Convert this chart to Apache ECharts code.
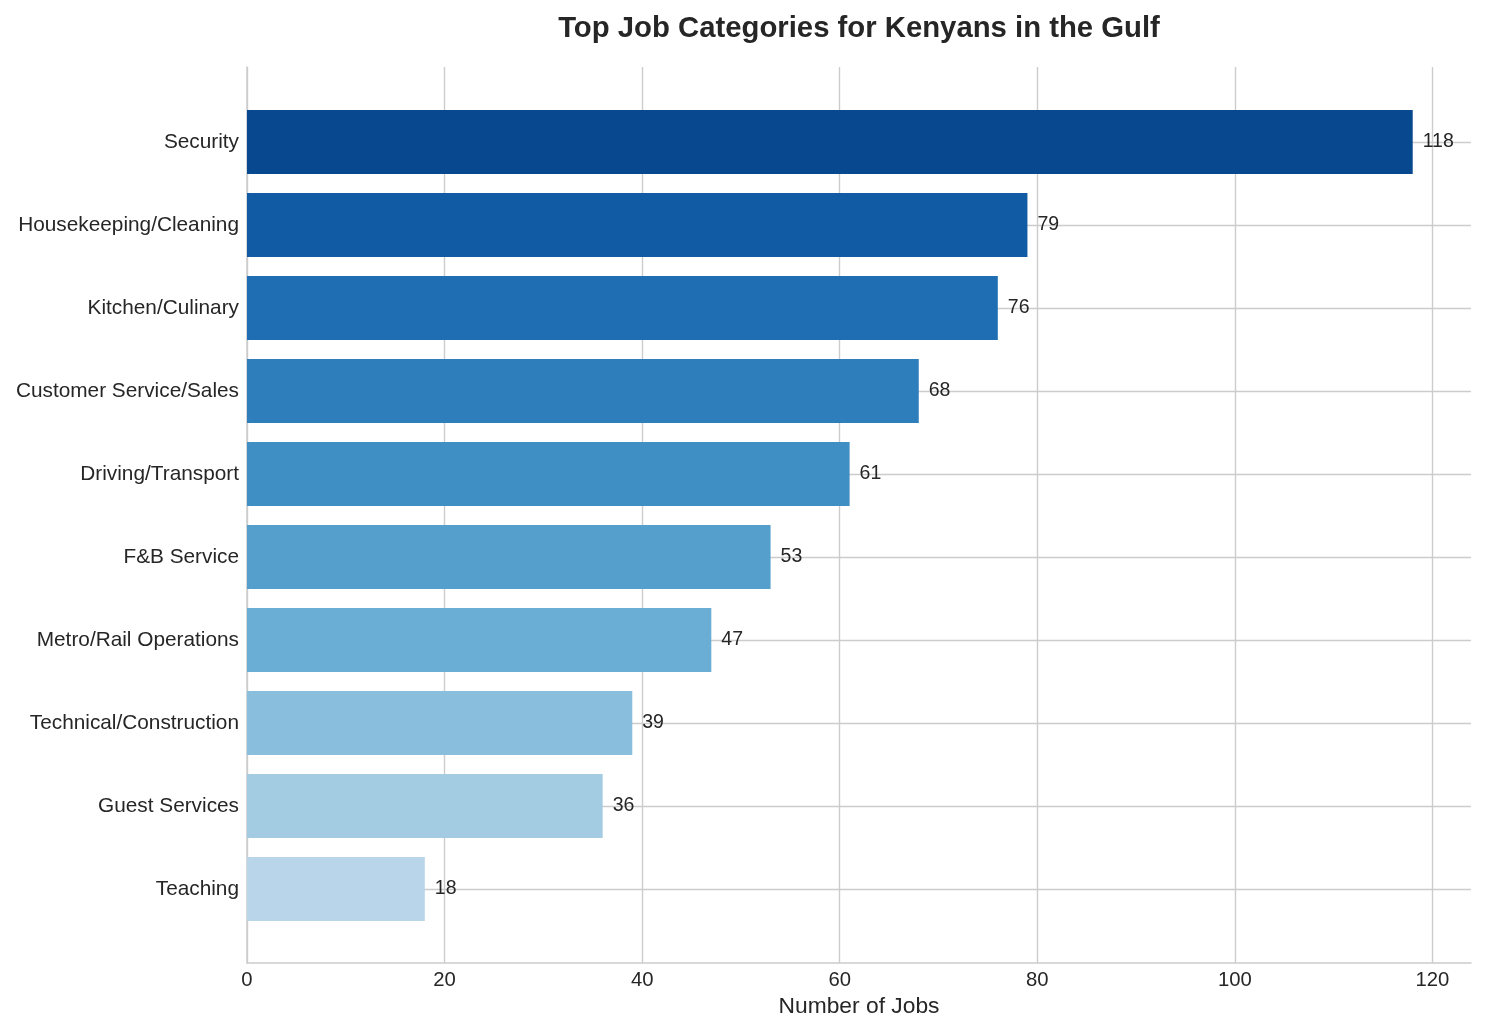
<!DOCTYPE html>
<html>
<head>
<meta charset="utf-8">
<script src="https://cdn.jsdelivr.net/npm/echarts@6/dist/echarts.min.js"></script>
<style>
html,body{margin:0;padding:0;background:#fff;}
#main{width:1485px;height:1033px;}
</style>
</head>
<body>
<div id="main"></div>
<script>
const categories = ["Security","Housekeeping/Cleaning","Kitchen/Culinary","Customer Service/Sales","Driving/Transport","F&B Service","Metro/Rail Operations","Technical/Construction","Guest Services","Teaching"];
const jobCounts = [118,79,76,68,61,53,47,39,36,18];
const xTicks = [0,20,40,60,80,100,120];
const barColors = ["#08488e","#105ba4","#1f6eb3","#2e7ebc","#3f8fc5","#559fcd","#6aaed6","#89bedc","#a3cce3","#b8d5ea"];

const FONT = '"Liberation Sans", Arial, sans-serif';
const TXT = '#262626';
const GRID = '#cccccc';
const XMAX = 123.9;

const chart = echarts.init(document.getElementById('main'), null, {renderer:'canvas'});
chart.setOption({
  backgroundColor:'#ffffff',
  animation:false,
  textStyle:{fontFamily:FONT,color:TXT},
  title:{
    text:'Top Job Categories for Kenyans in the Gulf',
    left:859, textAlign:'center', top:14, padding:0,
    textStyle:{fontFamily:FONT,fontSize:29.3,fontWeight:'bold',color:TXT}
  },
  grid:[
    {left:247,right:14,top:67,bottom:70,containLabel:false},
    {left:247,right:14,top:142,bottom:144,containLabel:false}
  ],
  xAxis:[
    {
      type:'value',gridIndex:0,min:0,max:XMAX,interval:20,
      name:'Number of Jobs',nameLocation:'middle',nameGap:31,
      nameTextStyle:{fontFamily:FONT,fontSize:22.8,color:TXT},
      axisLine:{show:true,lineStyle:{color:GRID,width:1.5}},
      axisTick:{show:false},
      axisLabel:{fontFamily:FONT,fontSize:20.3,color:TXT,margin:7,showMaxLabel:false,
        formatter:function(v){return xTicks.indexOf(v)>=0?String(v):'';}},
      splitLine:{show:true,showMinLine:true,showMaxLine:false,lineStyle:{color:GRID,width:1.4}}
    },
    {
      type:'value',gridIndex:1,min:0,max:XMAX,show:false
    }
  ],
  yAxis:[
    {
      type:'value',gridIndex:0,min:0,max:1,
      axisLine:{show:true,lineStyle:{color:GRID,width:1.5}},
      axisTick:{show:false},axisLabel:{show:false},splitLine:{show:false}
    },
    {
      type:'category',gridIndex:1,data:categories,inverse:true,boundaryGap:false,
      axisLine:{show:false},axisTick:{show:false},
      axisLabel:{interval:0,fontFamily:FONT,fontSize:20.8,color:TXT,margin:8},
      splitLine:{show:true,interval:0,lineStyle:{color:GRID,width:1.4}}
    }
  ],
  series:[{
    type:'bar',xAxisIndex:1,yAxisIndex:1,
    data:jobCounts.map(function(v,i){return {value:v,itemStyle:{color:barColors[i]}};}),
    barWidth:64,clip:false,
    label:{show:true,position:'right',distance:10,fontFamily:FONT,fontSize:19.5,color:TXT},
    z:3
  }]
});
</script>
</body>
</html>
